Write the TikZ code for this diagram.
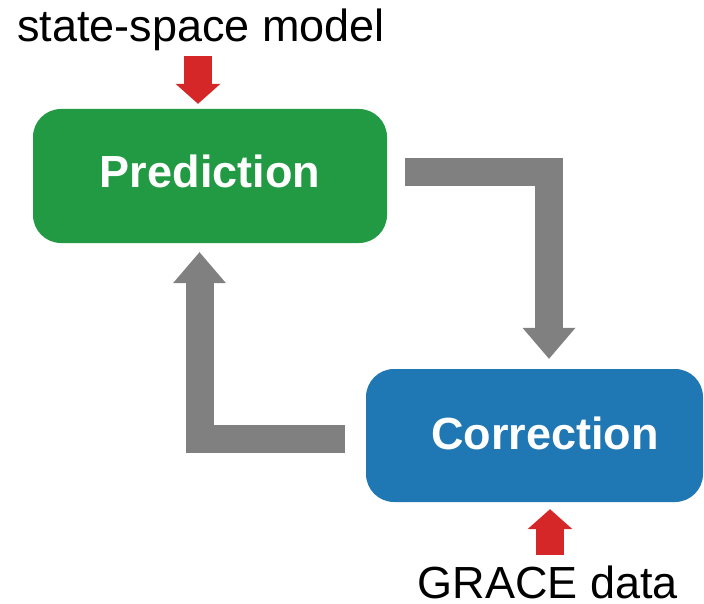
\documentclass[tikz,border=0pt]{standalone}
\usepackage{fontspec}
\setmainfont{Liberation Sans}
\usetikzlibrary{arrows.meta,calc}
\definecolor{predgreen}{RGB}{34,154,68}
\definecolor{corrblue}{RGB}{31,119,180}
\definecolor{inred}{RGB}{214,39,40}
\definecolor{flowgray}{RGB}{128,128,128}
\tikzset{
  stepbox/.style={rounded corners=28pt, inner sep=0pt, text=white,
    font=\fontsize{45}{54}\selectfont\bfseries, text height=32pt},
  lbl/.style={anchor=base, inner sep=0pt, font=\fontsize{45}{54}\selectfont},
  inarrow/.style={draw=inred, line width=28pt,
    -{Triangle[width=45pt,length=20pt,line width=0pt]}},
  flowarrow/.style={draw=flowgray, line width=28pt, line join=miter,
    -{Triangle[width=53pt,length=31pt,line width=0pt]}},
}
\begin{document}
\begin{tikzpicture}[x=1pt,y=-1pt]
\useasboundingbox (0,0) rectangle (704,604);
\node[stepbox, fill=predgreen, minimum width=354pt, minimum height=134pt, text depth=8pt]
  (pred) at (210,176) {Prediction};
\node[stepbox, fill=corrblue, minimum width=337pt, minimum height=133pt, text depth=5pt]
  (corr) at (534.5,435.5) {\hspace*{21pt}Correction};
\node[lbl] (ssm) at (201,42) {state-space model};
\node[lbl] (grace) at (548,598) {GRACE data};
\draw[inarrow] ($(ssm.base)+(-3,14)$) -- ($(pred.north)+(-12,-5)$);
\draw[inarrow] ($(grace.base)+(2,-43)$) -- ($(corr.south)+(15.5,7)$);
\draw[flowarrow] ($(pred.east)+(18,-4)$) -| ($(corr.north)+(14.5,-10)$);
\draw[flowarrow] ($(corr.west)+(-21,3)$) -| ($(pred.south)+(-10.5,9)$);
\end{tikzpicture}
\end{document}
